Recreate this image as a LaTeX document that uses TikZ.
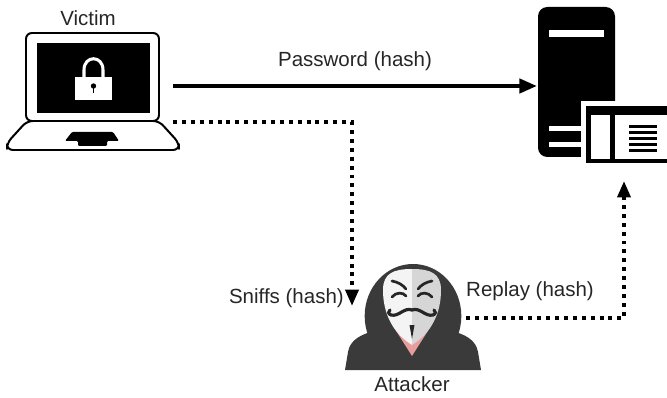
\documentclass[tikz,border=0pt]{standalone}
\usepackage{fontspec}
\setmainfont{Liberation Sans}
\usetikzlibrary{arrows.meta}
\definecolor{hood}{HTML}{3A3A3A}
\definecolor{maskL}{HTML}{F4F4F4}
\definecolor{maskR}{HTML}{D6D6D6}
\definecolor{neck}{HTML}{E99C9C}
\definecolor{ink}{HTML}{262626}

\tikzset{
  label/.style={font=\fontsize{17.5}{20}\selectfont, inner sep=0pt, text=black!85},
  wire/.style={line width=3.4pt, -{Triangle[length=15pt, width=12pt]}},
  sniff/.style={line width=3.4pt, dash pattern=on 3.4pt off 4.2pt, -{Triangle[length=14pt, width=11pt]}}
}

\begin{document}
\begin{tikzpicture}[x=0.03cm, y=-0.03cm]
  \useasboundingbox (0,0) rectangle (667,398);

  % laptop
  \begin{scope}[line width=1.7pt, line join=round]
    \draw[fill=white, rounded corners=5] (27,121) -- (7,143) -- (7,150) -- (179,150) -- (179,143) -- (159,121) -- cycle;
    \draw[fill=white, rounded corners=5] (26,33) rectangle (159,121);
    \fill (37,43) rectangle (150,113);
    \fill[rounded corners=1] (72,132) -- (113,132) -- (119,141) -- (107,141) -- (107,146) -- (78,146) -- (78,141) -- (65,141) -- cycle;
  \end{scope}
  \fill[white] (75,77) rectangle (112,100);
  \draw[white, line width=2.6pt] (84,77) -- (84,70) .. controls (84,55) and (103,55) .. (103,70) -- (103,77);
  \fill (93.5,86) circle (0.08cm);
  \fill (92.6,86) rectangle (94.4,93);
  \node[label] (victim) at (88,18) {Victim};

  % server
  \fill[rounded corners=8] (538,7) rectangle (615,157);
  \fill[white] (549,30) rectangle (604,37);
  \fill[white] (549,126) rectangle (582,131);
  \fill[white] (549,142) rectangle (582,147);
  \fill[white] (581,101) rectangle (672,168);
  \fill (586,106) rectangle (672,163);
  \fill[white] (591,115) rectangle (610,159);
  \fill[white] (615,115) rectangle (667,159);
  \foreach \y in {127,133,139,145,151}
    \fill (629,\y-1.5) rectangle (657,\y+1.5);

  % attacker
  \fill[hood] (345,370) -- (348,352) .. controls (350,340) and (361,334) .. (375,331)
              -- (451,331) .. controls (465,334) and (476,340) .. (478,352) -- (481,370) -- cycle;
  \fill[hood] (413,316) ellipse [x radius=1.45cm, y radius=1.56cm];
  \fill[neck] (393,326) -- (431,326) -- (412,356) -- cycle;
  \fill[maskL] (412,269) .. controls (394,269) and (383,273) .. (383,290)
               .. controls (383,314) and (393,333) .. (412,345) -- cycle;
  \fill[maskR] (412,269) .. controls (430,269) and (441,273) .. (441,290)
               .. controls (441,314) and (431,333) .. (412,345) -- cycle;
  \begin{scope}[ink, line width=2.3pt, line cap=round]
    \draw (392,281) .. controls (398,282) and (403,285) .. (406,289);
    \draw (432,281) .. controls (426,282) and (421,285) .. (418,289);
    \draw (392,297) .. controls (396,292) and (403,292) .. (406,296);
    \draw (432,297) .. controls (428,292) and (421,292) .. (418,296);
    \draw[line width=2.7pt] (412,310) .. controls (404,307) and (399,317) .. (391,315) .. controls (388,314) and (388,311) .. (390,310);
    \draw[line width=2.7pt] (412,310) .. controls (420,307) and (425,317) .. (433,315) .. controls (436,314) and (436,311) .. (434,310);
  \end{scope}
  \fill[ink] (409.5,325) -- (414.5,325) -- (412,339) -- cycle;
  \node[label] (attacker) at (412,384) {Attacker};

  % connectors
  \coordinate (victim-a) at (173,86);
  \coordinate (victim-b) at (173,122);
  \coordinate (server-in) at (537,86);
  \coordinate (server-up) at (624,181);
  \coordinate (attacker-in) at (352,306);
  \coordinate (attacker-out) at (466,318);

  \draw[wire] (victim-a) -- (server-in) node[label, midway, above=11pt] {Password (hash)};
  \draw[sniff] (victim-b) -| (attacker-in);
  \draw[sniff] (attacker-out) -| (server-up);
  \node[label, anchor=east] (sniffs) at (344,298) {Sniffs (hash)};
  \node[label, anchor=west] (replay) at (466,291) {Replay (hash)};
\end{tikzpicture}
\end{document}
